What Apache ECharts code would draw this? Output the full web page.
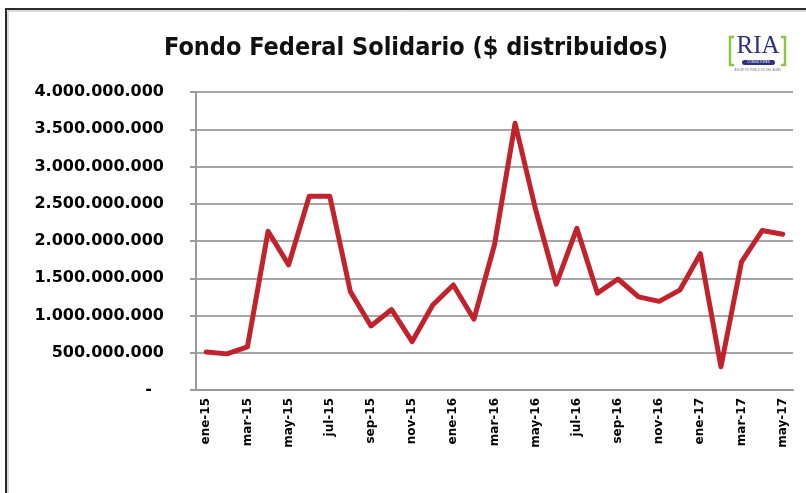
<!DOCTYPE html>
<html>
<head>
<meta charset="utf-8">
<title>Fondo Federal Solidario</title>
<script src="https://cdn.jsdelivr.net/npm/echarts@6/dist/echarts.min.js"></script>
<style>
  html, body { margin: 0; padding: 0; background: #fff; }
  #chart { width: 806px; height: 493px; }
</style>
</head>
<body>
<div id="chart"></div>
<script>
// meses (ene-15 .. may-17)
const months = [
  'ene-15', 'feb-15', 'mar-15', 'abr-15', 'may-15', 'jun-15', 'jul-15', 'ago-15',
  'sep-15', 'oct-15', 'nov-15', 'dic-15', 'ene-16', 'feb-16', 'mar-16', 'abr-16',
  'may-16', 'jun-16', 'jul-16', 'ago-16', 'sep-16', 'oct-16', 'nov-16', 'dic-16',
  'ene-17', 'feb-17', 'mar-17', 'abr-17', 'may-17'
]
// $ distribuidos por mes
const distribuidos = [
  510000000, 485000000, 580000000, 2130000000, 1680000000, 2600000000, 2600000000, 1320000000,
  860000000, 1080000000, 650000000, 1140000000, 1410000000, 950000000, 1950000000, 3580000000,
  2420000000, 1420000000, 2170000000, 1300000000, 1490000000, 1250000000, 1190000000, 1340000000,
  1830000000, 313000000, 1720000000, 2140000000, 2090000000
]
// eje Y
const yMin = 0
const yMax = 4000000000
const yStep = 500000000

function puntos(v) {
  return String(v).replace(/\B(?=(\d{3})+(?!\d))/g, '.')
}

var myChart = echarts.init(document.getElementById('chart'))

var option = {
  backgroundColor: '#fff',
  animation: false,
  title: {
    text: 'Fondo Federal Solidario ($ distribuidos)',
    left: 411,
    top: 31,
    textAlign: 'center',
    textStyle: {
      fontFamily: '"Liberation Sans Narrow", "DejaVu Sans Condensed", sans-serif',
      fontWeight: 'bold',
      fontSize: 25,
      color: '#111'
    }
  },
  grid: {
    left: 196,
    right: 13,
    top: 92,
    bottom: 103
  },
  xAxis: {
    type: 'category',
    data: months,
    boundaryGap: true,
    axisLine: { lineStyle: { color: '#9a9a9a', width: 2 } },
    axisTick: { interval: 1, length: 6, lineStyle: { color: '#9a9a9a', width: 2 } },
    axisLabel: {
      interval: 1,
      rotate: 90,
      margin: 8,
      color: '#000',
      fontFamily: '"DejaVu Sans", sans-serif',
      fontWeight: 'bold',
      fontSize: 12
    }
  },
  yAxis: {
    type: 'value',
    min: yMin,
    max: yMax,
    interval: yStep,
    axisLine: { show: true, lineStyle: { color: '#9a9a9a', width: 2 } },
    axisTick: { show: true, length: 6, lineStyle: { color: '#9a9a9a', width: 2 } },
    splitLine: { lineStyle: { color: '#a6a6a6', width: 2 } },
    axisLabel: {
      margin: 32,
      color: '#000',
      fontFamily: '"DejaVu Sans", sans-serif',
      fontWeight: 'bold',
      fontSize: 16,
      formatter: function (v) {
        return v === 0 ? '{d|-}' : puntos(v)
      },
      rich: {
        d: { padding: [0, 12, 0, 0], fontWeight: 'bold', fontSize: 16, color: '#000' }
      }
    }
  },
  series: [
    {
      name: '$ distribuidos',
      type: 'line',
      data: distribuidos,
      showSymbol: false,
      symbol: 'none',
      lineStyle: { color: '#c1222b', width: 5, join: 'round', cap: 'round' }
    }
  ],
  graphic: [
    // marco
    { type: 'rect', shape: { x: 6, y: 9, width: 900, height: 600 }, style: { fill: null, stroke: '#2a2a2a', lineWidth: 2 } },
    { type: 'rect', shape: { x: 8, y: 11, width: 900, height: 600 }, style: { fill: null, stroke: '#b5b5b5', lineWidth: 1 } },
    // logo RIA
    { type: 'text', x: 758, y: 46, style: { text: 'RIA', font: '25px "Liberation Serif", serif', fill: '#2e3180', align: 'center', verticalAlign: 'middle' } },
    { type: 'polyline', shape: { points: [[734, 37], [730, 37], [730, 65], [734, 65]] }, style: { stroke: '#8cc63f', lineWidth: 2.5, fill: null } },
    { type: 'polyline', shape: { points: [[781, 37], [785, 37], [785, 65], [781, 65]] }, style: { stroke: '#8cc63f', lineWidth: 2.5, fill: null } },
    { type: 'rect', shape: { x: 742, y: 60, width: 33, height: 5, r: 2.5 }, style: { fill: '#2e3180' } },
    { type: 'text', x: 758.5, y: 62.5, style: { text: 'CONSULTORES', font: '3px sans-serif', fill: '#fff', align: 'center', verticalAlign: 'middle' } },
    { type: 'text', x: 758, y: 70, style: { text: 'ASUNTOS PÚBLICOS DEL AGRO', font: '3px sans-serif', fill: '#777', align: 'center', verticalAlign: 'middle' } }
  ]
}

myChart.setOption(option)
</script>
</body>
</html>
